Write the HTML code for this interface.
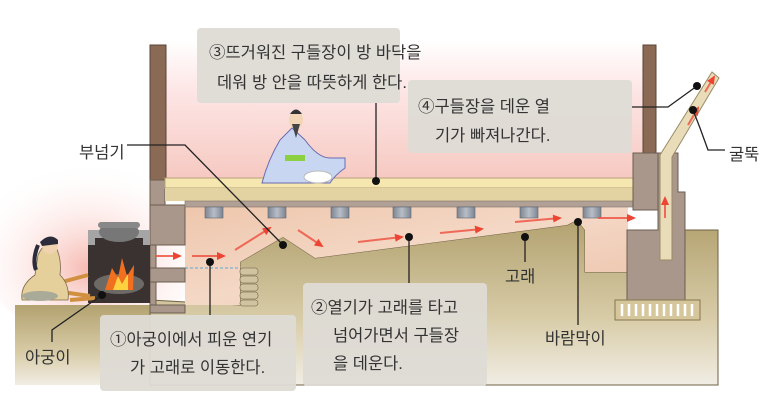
<!DOCTYPE html>
<html><head><meta charset="utf-8"><style>
html,body{margin:0;padding:0;background:#fff}
svg{display:block}
text{font-family:"Liberation Sans","Noto Sans CJK KR","NanumGothic",sans-serif;fill:#333}
</style></head><body>
<svg width="773" height="417" viewBox="0 0 773 417" xmlns="http://www.w3.org/2000/svg">
<defs>
<linearGradient id="room" x1="0" y1="0" x2="0" y2="1">
<stop offset="0" stop-color="#fff" stop-opacity="1"/><stop offset="0.35" stop-color="#fde6e6"/><stop offset="1" stop-color="#f6c8c0"/>
</linearGradient>
<radialGradient id="glow" cx="0.5" cy="0.6" r="0.6">
<stop offset="0" stop-color="#f7b8b0"/><stop offset="1" stop-color="#fff" stop-opacity="0"/>
</radialGradient>
<linearGradient id="ground" x1="0" y1="0" x2="0" y2="1">
<stop offset="0" stop-color="#b3a270"/><stop offset="0.6" stop-color="#d8cca8"/><stop offset="1" stop-color="#f1ede4"/>
</linearGradient>
<linearGradient id="flue" x1="0" y1="0" x2="1" y2="1">
<stop offset="0" stop-color="#eec6ac"/><stop offset="0.5" stop-color="#f4d8c6"/><stop offset="1" stop-color="#ecc2aa"/>
</linearGradient>
<linearGradient id="pil" x1="0" y1="0" x2="1" y2="0">
<stop offset="0" stop-color="#7d8591"/><stop offset="0.5" stop-color="#b8bec8"/><stop offset="1" stop-color="#7d8591"/>
</linearGradient>
<marker id="ar" markerUnits="userSpaceOnUse" markerWidth="9" markerHeight="9" refX="7" refY="4.5" orient="auto"><path d="M0,0.5 L9,4.5 L0,8.5 Z" fill="#ee4433"/></marker>
</defs>
<ellipse cx="90" cy="250" rx="110" ry="90" fill="url(#glow)"/>
<rect x="160" y="40" width="490" height="142" fill="url(#room)"/>
<path d="M15,305 L150,305 L150,385 L15,385 Z" fill="url(#ground)"/>
<path d="M150,300 L240,305 L240,262 L283,237 L315,258 L567,225 L577,220 L585,230 L585,272 L628,272 L628,230 L718,230 L718,385 L150,385 Z" fill="url(#ground)" stroke="#6f6244" stroke-width="1"/>
<path d="M185,205 L628,205 L628,272 L585,272 L585,230 L577,220 L567,225 L315,258 L283,237 L240,262 L240,305 L185,305 Z" fill="url(#flue)"/>
<line x1="185" y1="268" x2="240" y2="268" stroke="#7ab0d0" stroke-width="1.2" stroke-dasharray="3,2"/>
<g fill="#cfc3a0" stroke="#8a7d5e" stroke-width="0.8">
<rect x="240" y="268" width="18" height="7" rx="3"/><rect x="240" y="276" width="18" height="7" rx="3"/><rect x="240" y="284" width="18" height="7" rx="3"/><rect x="240" y="292" width="18" height="7" rx="3"/><rect x="240" y="300" width="18" height="6" rx="3"/>
</g>
<rect x="150" y="45" width="16" height="137" fill="#8a6a55" stroke="#5a4436"/>
<g fill="#a8978a" stroke="#6c5e52" stroke-width="1">
<rect x="150" y="180" width="15" height="25"/>
<rect x="150" y="205" width="35" height="40"/>
<rect x="150" y="245" width="6" height="23"/>
<rect x="150" y="268" width="35" height="14"/>
<rect x="150" y="282" width="6" height="23"/>
<rect x="150" y="305" width="35" height="8"/>
</g>
<rect x="165" y="178" width="468" height="10" fill="#f6e7b0" stroke="#b5a27a" stroke-width="1"/>
<rect x="165" y="188" width="468" height="13" fill="#e3d3a3"/>
<rect x="185" y="201" width="448" height="6" fill="#b0a096" stroke="#807064" stroke-width="0.6"/>
<g fill="url(#pil)" stroke="#5c6470" stroke-width="0.6">
<rect x="205" y="207" width="18" height="11"/><rect x="268" y="207" width="18" height="11"/><rect x="331" y="207" width="18" height="11"/><rect x="393" y="207" width="18" height="11"/><rect x="457" y="207" width="18" height="11"/><rect x="520" y="207" width="18" height="11"/><rect x="583" y="207" width="18" height="11"/>
</g>
<rect x="643" y="45" width="13" height="110" fill="#8a6a55" stroke="#5a4436"/>
<g fill="#a8978a" stroke="#6c5e52" stroke-width="1">
<path d="M658,153 L678,153 L678,192 L685,192 L685,300 L627,300 L627,230 L658,230 Z"/>
<rect x="633" y="153" width="25" height="57"/>
</g>
<path d="M660,260 L660,155 L712,72 L719,78 L672,157 L672,260 Z" fill="#e9dcb8" stroke="#9b8a66" stroke-width="1"/>
<rect x="615" y="300" width="85" height="20" fill="#d5c69c" stroke="#85764f"/>
<g stroke="#fff" stroke-width="2.5"><line x1="622" y1="304" x2="622" y2="316"/><line x1="629" y1="304" x2="629" y2="316"/><line x1="636" y1="304" x2="636" y2="316"/><line x1="643" y1="304" x2="643" y2="316"/><line x1="650" y1="304" x2="650" y2="316"/><line x1="657" y1="304" x2="657" y2="316"/><line x1="664" y1="304" x2="664" y2="316"/><line x1="671" y1="304" x2="671" y2="316"/><line x1="678" y1="304" x2="678" y2="316"/><line x1="685" y1="304" x2="685" y2="316"/><line x1="692" y1="304" x2="692" y2="316"/></g>
<g stroke="#ee5544" stroke-width="2" fill="none" marker-end="url(#ar)" stroke-opacity="0.85">
<line x1="155" y1="256" x2="180" y2="256"/><line x1="192" y1="256" x2="224" y2="256"/>
<line x1="235" y1="250" x2="270" y2="228"/><line x1="298" y1="230" x2="322" y2="246"/>
<line x1="358" y1="242" x2="402" y2="237"/><line x1="440" y1="233" x2="482" y2="229"/>
<line x1="515" y1="222" x2="560" y2="218"/><line x1="598" y1="218" x2="634" y2="218"/>
<line x1="665" y1="218" x2="665" y2="198"/><line x1="688" y1="125" x2="698" y2="108"/><line x1="705" y1="92" x2="714" y2="77"/>
</g>
<rect x="88" y="230" width="62" height="73" fill="#3a3230"/>
<path d="M88,230 L150,230 L150,245 L143,245 L143,238 L95,238 L95,245 L88,245 Z" fill="#a5a5a5"/>
<ellipse cx="119" cy="232" rx="20" ry="10" fill="#777"/>
<rect x="98" y="222" width="42" height="6" rx="3" fill="#888"/>
<ellipse cx="119" cy="284" rx="25" ry="10" fill="#6d6a66"/>
<path d="M105,290 L112,268 L118,278 L122,258 L127,276 L134,265 L133,290 Z" fill="#f07020"/>
<path d="M113,290 L118,276 L122,284 L128,274 L128,290 Z" fill="#ffd040"/>
<g stroke="#d09040" stroke-width="4"><line x1="62" y1="282" x2="88" y2="275"/><line x1="62" y1="292" x2="90" y2="296"/><line x1="70" y1="300" x2="95" y2="298"/></g>
<path d="M22,300 Q20,285 35,275 L38,255 Q45,240 55,245 Q62,258 60,275 Q70,285 68,300 Z" fill="#e5cf9a" stroke="#7b6a48" stroke-width="0.8"/>
<ellipse cx="50" cy="246" rx="8" ry="8" fill="#f0d2b0"/>
<path d="M40,242 Q50,232 58,240 L58,244 L42,246 Z" fill="#2b2b3a"/>
<path d="M38,245 Q32,260 36,270" stroke="#2b2b3a" stroke-width="4" fill="none"/>
<ellipse cx="40" cy="296" rx="18" ry="5" fill="#a9aa98"/>
<path d="M262,183 Q268,160 280,140 L292,128 L305,140 Q318,158 330,158 L345,158 L345,168 Q335,175 330,183 Z" fill="#c9d6f2" stroke="#6a6ab0" stroke-width="1"/>
<rect x="285" y="155" width="20" height="6" fill="#8ad040"/>
<ellipse cx="296" cy="120" rx="7" ry="9" fill="#f2d4b6"/>
<path d="M290,114 Q296,105 302,114 Z" fill="#333"/>
<path d="M292,124 L296,138 L300,124 Z" fill="#444"/>
<ellipse cx="318" cy="177" rx="14" ry="6" fill="#fff" stroke="#bbb"/>
<g fill="#dedbd5" fill-opacity="0.95">
<rect x="197" y="28" width="203" height="75" rx="4"/>
<rect x="408" y="80" width="224" height="73" rx="4"/>
<rect x="100" y="315" width="196" height="76" rx="4"/>
<rect x="303" y="283" width="184" height="103" rx="4"/>
</g>
<g font-size="16.5">
<text x="209" y="58">③뜨거워진 구들장이 방 바닥을</text>
<text x="217" y="88">데워 방 안을 따뜻하게 한다.</text>
<text x="418" y="112">④구들장을 데운 열</text>
<text x="435" y="141">기가 빠져나간다.</text>
<text x="110" y="345">①아궁이에서 피운 연기</text>
<text x="130" y="373">가 고래로 이동한다.</text>
<text x="311" y="313">②열기가 고래를 타고</text>
<text x="333" y="341">넘어가면서 구들장</text>
<text x="333" y="369">을 데운다.</text>
<text x="79" y="158">부넘기</text>
<text x="25" y="363">아궁이</text>
<text x="505" y="282">고래</text>
<text x="545" y="344">바람막이</text>
<text x="729" y="160">굴뚝</text>
</g>
<g stroke="#222" stroke-width="1.3" fill="none">
<polyline points="127,145 185,145 283,245"/>
<polyline points="52,342 52,330 102,295"/>
<line x1="376" y1="103" x2="376" y2="181"/>
<line x1="210" y1="262" x2="210" y2="315"/>
<line x1="409" y1="237" x2="409" y2="283"/>
<line x1="525" y1="237" x2="525" y2="262"/>
<line x1="578" y1="223" x2="578" y2="325"/>
<polyline points="632,107 668,107 697,86"/>
<polyline points="725,150 708,150 700,128 693,110"/>
</g>
<g fill="#111">
<circle cx="283" cy="245" r="4"/><circle cx="102" cy="295" r="4"/><circle cx="376" cy="181" r="4"/><circle cx="210" cy="262" r="4"/><circle cx="409" cy="237" r="4"/><circle cx="525" cy="237" r="4"/><circle cx="578" cy="222" r="4"/><circle cx="697" cy="86" r="4"/><circle cx="693" cy="110" r="4"/>
</g>
</svg>
</body></html>
